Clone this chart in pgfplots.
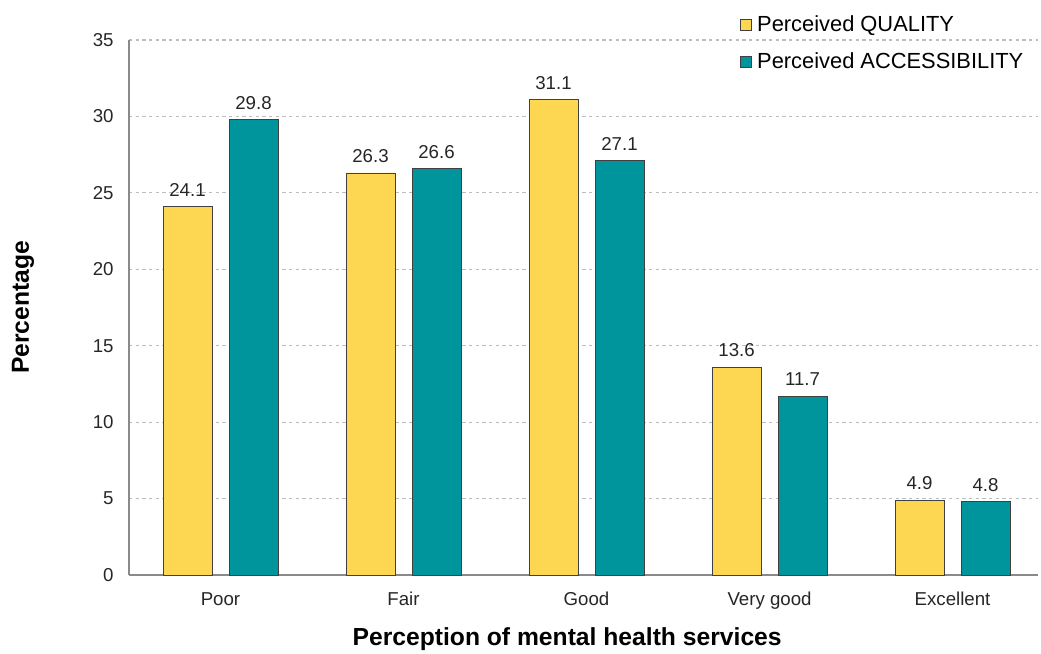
\documentclass[border=0pt]{standalone}
\usepackage{pgfplots}
\pgfplotsset{compat=1.18}
\usepackage{fontspec}
\setmainfont{Liberation Sans}
\definecolor{qualyellow}{HTML}{FDD652}
\definecolor{accteal}{HTML}{00959C}
\definecolor{axisgray}{HTML}{8A8A8A}
\definecolor{gridgray}{HTML}{BDBDBD}
\begin{document}
\begin{tikzpicture}[x=0.75pt,y=0.75pt]
\path[use as bounding box] (0,0) rectangle (1041,653);
\begin{axis}[
  at={(96.75pt,58.5pt)}, anchor=south west,
  scale only axis, width=681.75pt, height=401.25pt,
  xmin=-0.5, xmax=4.467, ymin=0, ymax=35,
  ytick={0,5,...,35},
  xtick={0,1,2,3,4},
  xticklabels={Poor,Fair,Good,Very good,Excellent},
  /pgf/number format/assume math mode=true,
  axis x line*=bottom, axis y line*=left,
  axis line style={draw=axisgray, line width=1.1pt, -},
  major tick length=0pt,
  ymajorgrids, grid style={gridgray, dash pattern=on 2.5pt off 2.5pt, line width=0.8pt},
  tick label style={font=\fontsize{14}{16}\selectfont, text=black!85},
  yticklabel style={xshift=-8pt},
  xticklabel style={yshift=-9.5pt},
  xlabel={\textbf{Perception of mental health services}},
  ylabel={\textbf{Percentage}},
  label style={font=\fontsize{18.5}{21}\selectfont},
  xlabel style={at={(axis description cs:0.482,-0.119)}, anchor=center},
  ylabel style={at={(axis description cs:-0.1166,0.5)}, anchor=center, rotate=0},
  ybar, bar width=36.75pt,
  nodes near coords,
  nodes near coords style={font=\fontsize{14}{16}\selectfont, text=black!85, yshift=4pt,
    /pgf/number format/.cd, fixed, fixed zerofill, precision=1},
  legend style={draw=none, fill=none, at={(0.672,1.051)}, anchor=north west,
    font=\fontsize{16.4}{19.5}\selectfont, row sep=10.5pt, inner sep=0pt},
  legend cell align=left,
  % filled square with a little blank room before the entry text
  legend image code/.code={\draw[#1] (0pt,-4pt) rectangle (8pt,4pt);
    \path[draw=none, fill=none] (0pt,0pt) -- (10.5pt,0pt);},
  clip=false,
]
\addplot[fill=qualyellow, draw=black!75, line width=0.6pt, bar shift=-24.75pt]
  coordinates {(0,24.1) (1,26.3) (2,31.1) (3,13.6) (4,4.9)};
\addlegendentry{Perceived QUALITY}
\addplot[fill=accteal, draw=black!75, line width=0.6pt, bar shift=24.75pt]
  coordinates {(0,29.8) (1,26.6) (2,27.1) (3,11.7) (4,4.8)};
\addlegendentry{Perceived ACCESSIBILITY}
\end{axis}
\end{tikzpicture}
\end{document}
